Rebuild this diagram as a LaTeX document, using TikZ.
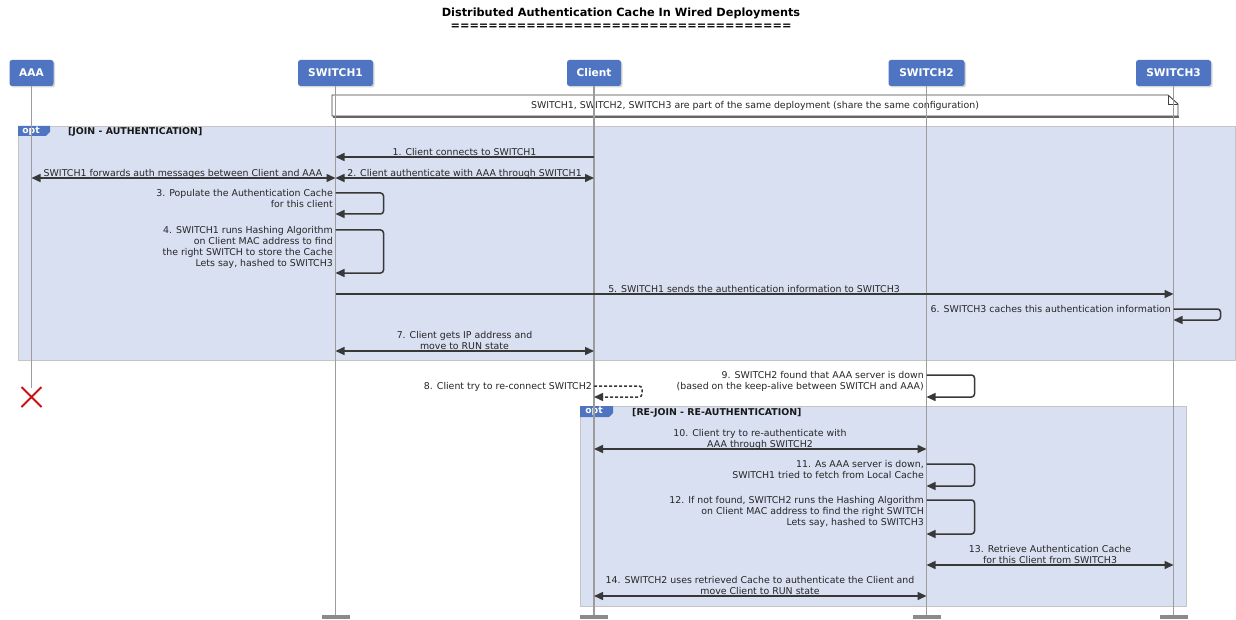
\documentclass[tikz,border=0pt]{standalone}
\usepackage{fontspec}
\setmainfont{DejaVu Sans}
\usetikzlibrary{arrows.meta,shadows}
\definecolor{partblue}{HTML}{4F75C2}
\definecolor{framefill}{HTML}{D9E0F1}
\definecolor{framedraw}{HTML}{C4C4C4}
\definecolor{lifegray}{HTML}{9C9C9C}
\definecolor{arrowgray}{HTML}{383838}
\definecolor{barcol}{HTML}{8A8A8A}
\definecolor{xred}{HTML}{CC1111}
\newcommand\msgfont{\fontsize{9.4}{11}\selectfont}
\tikzset{
  part/.style={fill=partblue, rounded corners=2.5pt, text=white,
    font=\fontsize{10.6}{12}\selectfont\bfseries, minimum height=26pt, inner sep=0pt,
    drop shadow={shadow xshift=1.5pt, shadow yshift=-1.5pt, opacity=0.3}},
  life/.style={draw=lifegray, line width=1.6pt},
  endbar/.style={fill=barcol, minimum width=28pt, minimum height=4pt, inner sep=0pt},
  arr/.style={draw=arrowgray, line width=1.5pt, -{Triangle[length=9pt,width=8pt]}},
  darr/.style={draw=arrowgray, line width=1.5pt, {Triangle[length=9pt,width=8pt]}-{Triangle[length=9pt,width=8pt]}},
  selfarr/.style={arr, rounded corners=3pt},
  lbl/.style={font=\msgfont, inner sep=0pt, text=black!85},
  lblc/.style={lbl, align=center, anchor=south, execute at end node={\vphantom{g}}},
  lblr/.style={lbl, align=right, anchor=north east},
  optframe/.style={fill=framefill, draw=framedraw, line width=1pt, inner sep=0pt, anchor=north west},
  opttab/.style={text=white, font=\fontsize{9.2}{10}\selectfont\bfseries, inner sep=0pt},
  optlabel/.style={font=\fontsize{9.4}{10}\selectfont\bfseries, inner sep=0pt, anchor=west, text=black!90},
  xmark/.style={draw=xred, line width=2pt},
}
\begin{document}
\begin{tikzpicture}[x=1pt,y=-1pt]
\useasboundingbox (0,0) rectangle (1236,620);
\fill[white] (0,0) rectangle (1236,620);

% title
\node[font=\fontsize{11.3}{13}\selectfont\bfseries, inner sep=0pt] (title) at (621,13.5) {Distributed Authentication Cache In Wired Deployments};
\node[font=\fontsize{11.3}{13}\selectfont\bfseries, inner sep=0pt] (titleul) at (621,26.5) {====================================};

% participants
\node[part, minimum width=44pt] (aaa) at (31.5,73) {AAA};
\node[part, minimum width=75pt] (sw1) at (335.5,73) {SWITCH1};
\node[part, minimum width=54pt] (cl) at (594,73) {Client};
\node[part, minimum width=76pt] (sw2) at (926.5,73) {SWITCH2};
\node[part, minimum width=75pt] (sw3) at (1173.5,73) {SWITCH3};

% end bars
\node[endbar] (sw1end) at (335.5,617) {};
\node[endbar] (clend) at (594,617) {};
\node[endbar] (sw2end) at (926.5,617) {};
\node[endbar] (sw3end) at (1173.5,617) {};

% note
\draw[fill=white, draw=black!75, line width=0.9pt] (332,95) -- (1168,95) -- (1178,104) -- (1178,116) -- (332,116) -- cycle;
\draw[draw=black!75, line width=0.7pt] (1168,95) -- (1168,104) -- (1178,104);
\draw[draw=black!60, line width=1.5pt] (333,117) -- (1179,117);
\node[lbl] (note) at (755,106) {SWITCH1, SWITCH2, SWITCH3 are part of the same deployment (share the same configuration)};

% opt frame 1
\node[optframe, minimum width=1217pt, minimum height=234pt] (opt1) at (18,126) {};
\fill[partblue] (opt1.north west) -- ++(32,0) -- ++(0,6) -- ++(-4,4) -- ++(-28,0) -- cycle;
\node[opttab] (opt1tab) at (31,131) {opt};
\node[optlabel] (opt1lbl) at (68,132) {[JOIN - AUTHENTICATION]};

% opt frame 2
\node[optframe, minimum width=606pt, minimum height=200pt] (opt2) at (580,406) {};
\fill[partblue] (opt2.north west) -- ++(33,0) -- ++(0,7) -- ++(-4,4) -- ++(-29,0) -- cycle;
\node[opttab] (opt2tab) at (594,411.5) {opt};
\node[optlabel] (opt2lbl) at (632,412.5) {[RE-JOIN - RE-AUTHENTICATION]};

% lifelines
\coordinate (aaadead) at (31.5,397);
\coordinate (aaalife) at (31.5,388);
\draw[life] (aaa.south) -- (aaalife);
\draw[life] (sw1.south) -- (sw1end.north);
\draw[life] (cl.south) -- (clend.north);
\draw[life] (sw2.south) -- (sw2end.north);
\draw[life] (sw3.south) -- (sw3end.north);
\draw[xmark] (aaadead) +(-10,-10) -- +(10,10) +(-10,10) -- +(10,-10);

% message coordinates
\coordinate (m1a) at (594,157);   \coordinate (m1b) at (335.5,157);
\coordinate (m2a) at (335.5,178); \coordinate (m2b) at (594,178);
\coordinate (fwa) at (31.5,178);  \coordinate (fwb) at (335.5,178);
\coordinate (m3a) at (335.5,193); \coordinate (m3b) at (335.5,214);
\coordinate (m4a) at (335.5,230); \coordinate (m4b) at (335.5,273);
\coordinate (m5a) at (335.5,294); \coordinate (m5b) at (1173.5,294);
\coordinate (m6a) at (1173.5,309);\coordinate (m6b) at (1173.5,320);
\coordinate (m7a) at (335.5,351); \coordinate (m7b) at (594,351);
\coordinate (m8a) at (594,386);   \coordinate (m8b) at (594,397);
\coordinate (m9a) at (926.5,375); \coordinate (m9b) at (926.5,397);
\coordinate (m10a) at (594,449);  \coordinate (m10b) at (926.5,449);
\coordinate (m11a) at (926.5,464);\coordinate (m11b) at (926.5,486);
\coordinate (m12a) at (926.5,500);\coordinate (m12b) at (926.5,534);
\coordinate (m13a) at (926.5,565);\coordinate (m13b) at (1173.5,565);
\coordinate (m14a) at (594,596);  \coordinate (m14b) at (926.5,596);

% messages
\draw[arr] (m1a) -- (m1b);
\node[lblc] (l1) at (464.5,158) {1. Client connects to SWITCH1};
\draw[darr] (fwa) -- (fwb);
\node[lblc] (lfw) at (183,179) {SWITCH1 forwards auth messages between Client and AAA};
\draw[darr] (m2a) -- (m2b);
\node[lblc] (l2) at (464.5,179) {2. Client authenticate with AAA through SWITCH1};
\draw[selfarr] (m3a) -- ++(48,0) |- (m3b);
\node[lblr] (l3) at (333,189.5) {3. Populate the Authentication Cache\\for this client};
\draw[selfarr] (m4a) -- ++(48,0) |- (m4b);
\node[lblr] (l4) at (333,226.5) {4. SWITCH1 runs Hashing Algorithm\\on Client MAC address to find\\the right SWITCH to store the Cache\\Lets say, hashed to SWITCH3};
\draw[arr] (m5a) -- (m5b);
\node[lblc] (l5) at (754,295) {5. SWITCH1 sends the authentication information to SWITCH3};
\draw[selfarr] (m6a) -- ++(47,0) |- (m6b);
\node[lblr] (l6) at (1171,305.5) {6. SWITCH3 caches this authentication information};
\draw[darr] (m7a) -- (m7b);
\node[lblc] (l7) at (464.5,352) {7. Client gets IP address and\\move to RUN state};
\draw[selfarr, dashed, dash pattern=on 3pt off 2pt] (m8a) -- ++(48,0) |- (m8b);
\node[lblr] (l8) at (592,382.5) {8. Client try to re-connect SWITCH2};
\draw[selfarr] (m9a) -- ++(48,0) |- (m9b);
\node[lblr] (l9) at (924,371.5) {9. SWITCH2 found that AAA server is down\\(based on the keep-alive between SWITCH and AAA)};
\draw[darr] (m10a) -- (m10b);
\node[lblc] (l10) at (760,450) {10. Client try to re-authenticate with\\AAA through SWITCH2};
\draw[selfarr] (m11a) -- ++(48,0) |- (m11b);
\node[lblr] (l11) at (924,460.5) {11. As AAA server is down,\\SWITCH1 tried to fetch from Local Cache};
\draw[selfarr] (m12a) -- ++(48,0) |- (m12b);
\node[lblr] (l12) at (924,496.5) {12. If not found, SWITCH2 runs the Hashing Algorithm\\on Client MAC address to find the right SWITCH\\Lets say, hashed to SWITCH3};
\draw[darr] (m13a) -- (m13b);
\node[lblc] (l13) at (1050,566) {13. Retrieve Authentication Cache\\for this Client from SWITCH3};
\draw[darr] (m14a) -- (m14b);
\node[lblc] (l14) at (760,597) {14. SWITCH2 uses retrieved Cache to authenticate the Client and\\move Client to RUN state};
\end{tikzpicture}
\end{document}
